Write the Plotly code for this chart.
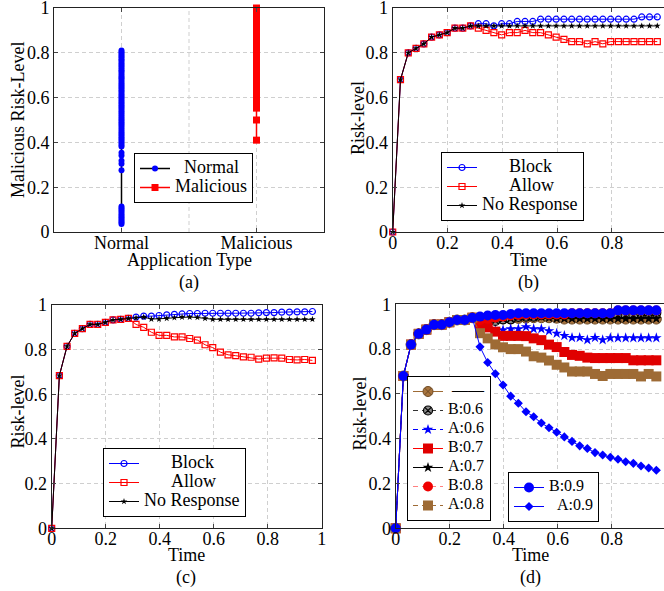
import plotly.graph_objects as go

W, H = 664, 591
SERIF = "Liberation Serif"

# ---------------- data: panel (a) ----------------
app_types = ["Normal", "Malicious"]
normal_risk = [0.81, 0.803, 0.795, 0.787, 0.78, 0.771, 0.765, 0.756, 0.748, 0.74,
               0.731, 0.722, 0.715, 0.706, 0.698, 0.69, 0.683, 0.674, 0.665, 0.657,
               0.649, 0.642, 0.633, 0.625, 0.616, 0.608, 0.6, 0.592, 0.583, 0.575,
               0.566, 0.558, 0.55, 0.541, 0.533, 0.524, 0.516, 0.507, 0.499, 0.49,
               0.482, 0.474, 0.465, 0.457, 0.448, 0.44, 0.432, 0.423, 0.415, 0.407,
               0.398, 0.39, 0.382, 0.354, 0.342, 0.318, 0.305, 0.276,
               0.114, 0.106, 0.098, 0.09, 0.082, 0.074, 0.066, 0.058, 0.05, 0.043, 0.036]
malicious_risk = [1.0, 0.995, 0.988, 0.98, 0.972, 0.964, 0.957, 0.949, 0.941, 0.933,
                  0.925, 0.917, 0.909, 0.9, 0.892, 0.884, 0.876, 0.868, 0.86, 0.852,
                  0.843, 0.835, 0.827, 0.819, 0.81, 0.802, 0.794, 0.786, 0.777, 0.769,
                  0.761, 0.752, 0.744, 0.736, 0.727, 0.719, 0.711, 0.702, 0.694, 0.686,
                  0.677, 0.669, 0.661, 0.652, 0.644, 0.636, 0.627, 0.619, 0.611, 0.602,
                  0.594, 0.586, 0.577, 0.569, 0.561, 0.553, 0.5, 0.41]

# ---------------- shared time axis ----------------
time = [0, 0.0284, 0.0568, 0.0852, 0.1136, 0.142, 0.1704, 0.1988, 0.2272, 0.2556,
        0.284, 0.3124, 0.3408, 0.3692, 0.3976, 0.426, 0.4544, 0.4828, 0.5112, 0.5396,
        0.568, 0.5964, 0.6248, 0.6532, 0.6816, 0.71, 0.7384, 0.7668, 0.7952, 0.8236,
        0.852, 0.8804, 0.9088, 0.9372, 0.9656]

# ---------------- panel (b) ----------------
b_start = [0, 0.68, 0.80, 0.82, 0.84, 0.87, 0.88, 0.89, 0.91, 0.91, 0.92]
b_block = b_start + [0.93, 0.93, 0.92, 0.93, 0.93, 0.94, 0.94, 0.94,
                     0.95, 0.95, 0.95, 0.95, 0.95, 0.95, 0.95, 0.95, 0.95, 0.95, 0.95, 0.95, 0.95,
                     0.96, 0.96, 0.96]
b_allow = b_start + [0.91, 0.90, 0.89, 0.88, 0.89, 0.89, 0.90, 0.89, 0.89, 0.88, 0.87, 0.86,
                     0.85, 0.85, 0.84, 0.85, 0.84, 0.85, 0.85, 0.85, 0.85, 0.85, 0.85, 0.85]
b_noresp = b_start + [0.92, 0.92, 0.92, 0.92, 0.92, 0.92, 0.92, 0.92, 0.92, 0.92, 0.92, 0.92,
                      0.92, 0.92, 0.92, 0.92, 0.92, 0.92, 0.92, 0.92, 0.92, 0.92, 0.92, 0.92]

# ---------------- panel (c) ----------------
c_start = [0, 0.684, 0.815, 0.873, 0.894, 0.913, 0.913, 0.922, 0.933, 0.936, 0.94]
c_block = c_start + [0.946, 0.95, 0.95, 0.953, 0.956, 0.958, 0.96, 0.962, 0.962, 0.963,
                     0.963, 0.963, 0.963, 0.963, 0.963, 0.963, 0.965, 0.966, 0.966, 0.968,
                     0.968, 0.969, 0.969, 0.971]
c_allow = c_start + [0.913, 0.90, 0.878, 0.864, 0.864, 0.857, 0.857, 0.85, 0.843, 0.822,
                     0.809, 0.789, 0.777, 0.773, 0.768, 0.766, 0.758, 0.762, 0.763, 0.762,
                     0.756, 0.754, 0.756, 0.752]
c_noresp = c_start + [0.942, 0.946, 0.937, 0.937, 0.94, 0.943, 0.946, 0.946, 0.944, 0.94,
                      0.936, 0.936, 0.936, 0.936, 0.936, 0.936, 0.936, 0.936, 0.936, 0.936,
                      0.936, 0.936, 0.936, 0.936]

# ---------------- panel (d) ----------------
d_start = [0, 0.68, 0.82, 0.868, 0.887, 0.909, 0.909, 0.92, 0.93, 0.93, 0.94]
d_base = d_start + [0.94, 0.938, 0.935, 0.935, 0.935, 0.937, 0.938, 0.94, 0.94, 0.94, 0.938,
                    0.934, 0.934, 0.934, 0.934, 0.934, 0.934, 0.934, 0.934, 0.934, 0.934,
                    0.934, 0.934, 0.934]
d_b06 = d_start + [0.933, 0.933, 0.926, 0.933, 0.933, 0.944, 0.945, 0.945,
                   0.952, 0.952, 0.952, 0.952, 0.952, 0.952, 0.952, 0.952, 0.952, 0.952,
                   0.952, 0.952, 0.952, 0.962, 0.962, 0.962]
d_a06 = d_start + [0.908, 0.893, 0.881, 0.885, 0.89, 0.89, 0.899, 0.89, 0.89, 0.881, 0.87,
                   0.86, 0.851, 0.851, 0.841, 0.851, 0.841, 0.85, 0.85, 0.85, 0.85, 0.85,
                   0.85, 0.85]
d_b07 = d_start + [0.908, 0.897, 0.878, 0.859, 0.859, 0.859, 0.858, 0.848, 0.84, 0.82,
                   0.809, 0.787, 0.774, 0.77, 0.762, 0.76, 0.76, 0.76, 0.76, 0.76,
                   0.75, 0.75, 0.75, 0.75]
d_a07 = d_start + [0.942, 0.946, 0.937, 0.937, 0.94, 0.943, 0.946, 0.946, 0.944, 0.94,
                   0.936, 0.936, 0.936, 0.936, 0.936, 0.936, 0.936, 0.936, 0.936, 0.936,
                   0.936, 0.936, 0.936, 0.936]
d_b08 = d_start + [0.93, 0.935, 0.94, 0.945, 0.95, 0.952, 0.955, 0.955, 0.955, 0.955,
                   0.955, 0.955, 0.96, 0.96, 0.96, 0.96, 0.96, 0.96, 0.972, 0.972,
                   0.972, 0.972, 0.972, 0.972]
d_a08 = d_start + [0.871, 0.848, 0.821, 0.808, 0.80, 0.80, 0.789, 0.768, 0.762, 0.749,
                   0.73, 0.718, 0.70, 0.70, 0.70, 0.689, 0.68, 0.689, 0.689, 0.689,
                   0.689, 0.678, 0.689, 0.678]
d_b09 = d_start + [0.945, 0.95, 0.952, 0.952, 0.957, 0.96, 0.96, 0.96, 0.96, 0.96,
                   0.96, 0.96, 0.96, 0.96, 0.96, 0.96, 0.96, 0.96, 0.973, 0.973,
                   0.973, 0.973, 0.973, 0.973]
d_a09 = d_start + [0.81, 0.74, 0.69, 0.64, 0.59, 0.558, 0.52, 0.498, 0.47, 0.449, 0.429,
                   0.408, 0.388, 0.368, 0.356, 0.338, 0.327, 0.317, 0.308, 0.297, 0.29,
                   0.278, 0.269, 0.259]


def X(p):
    return p / W


def Y(p):
    return 1 - p / H


def lab(s, size=18):
    return f'<span style="font-size:{size}px">{s}</span>'


NB = "\u00a0"
BROWN = "#9E6B35"

fig = go.Figure()


def add(x, y, name, xa, ya, leg, line, marker):
    fig.add_trace(go.Scatter(x=x, y=y, name=name, mode="lines+markers",
                             line=line, marker=marker, xaxis=xa, yaxis=ya,
                             legend=leg, cliponaxis=False))


# (a)
add([app_types[0]] * len(normal_risk), normal_risk, lab(NB * 2 + "Normal"), "x", "y", "legend",
    dict(color="black", width=1.5), dict(symbol="circle", size=6, color="blue"))
add([app_types[1]] * len(malicious_risk), malicious_risk, lab("Malicious"), "x", "y", "legend",
    dict(color="red", width=1.5), dict(symbol="square", size=7, color="red"))

# (b)
add(time, b_block, lab(NB * 6 + "Block"), "x2", "y2", "legend2",
    dict(color="blue", width=1), dict(symbol="circle-open", size=6, color="blue", line=dict(width=1.2)))
add(time, b_allow, lab(NB * 6 + "Allow"), "x2", "y2", "legend2",
    dict(color="red", width=1), dict(symbol="square-open", size=6, color="red", line=dict(width=1.2)))
add(time, b_noresp, lab("No Response"), "x2", "y2", "legend2",
    dict(color="black", width=1), dict(symbol="star", size=5, color="black"))

# (c)
add(time, c_block, lab(NB * 6 + "Block"), "x3", "y3", "legend3",
    dict(color="blue", width=1), dict(symbol="circle-open", size=6, color="blue", line=dict(width=1.2)))
add(time, c_allow, lab(NB * 6 + "Allow"), "x3", "y3", "legend3",
    dict(color="red", width=1), dict(symbol="square-open", size=6, color="red", line=dict(width=1.2)))
add(time, c_noresp, lab("No Response"), "x3", "y3", "legend3",
    dict(color="black", width=1), dict(symbol="star", size=5, color="black"))

# (d)
DASH = "5px,4px"
add(time, d_base, lab(NB + "——", 16), "x4", "y4", "legend4",
    dict(color=BROWN, width=1), dict(symbol="circle-x", size=10, color="#A8743E", line=dict(color="#6E4A24", width=1)))
add(time, d_b06, lab("B:0.6", 16), "x4", "y4", "legend4",
    dict(color="#333333", width=1, dash=DASH), dict(symbol="circle-x", size=9, color="#8A8A8A", line=dict(color="black", width=1.2)))
add(time, d_a06, lab("A:0.6", 16), "x4", "y4", "legend4",
    dict(color="blue", width=1, dash=DASH), dict(symbol="star", size=8, color="blue"))
add(time, d_b07, lab("B:0.7", 16), "x4", "y4", "legend4",
    dict(color="red", width=1), dict(symbol="square", size=10, color="#E00000"))
add(time, d_a07, lab("A:0.7", 16), "x4", "y4", "legend4",
    dict(color="black", width=1), dict(symbol="star", size=8, color="black"))
add(time, d_b08, lab("B:0.8", 16), "x4", "y4", "legend4",
    dict(color="#FF8080", width=1.2, dash=DASH), dict(symbol="circle", size=10, color="#F00000"))
add(time, d_a08, lab("A:0.8", 16), "x4", "y4", "legend4",
    dict(color=BROWN, width=1, dash=DASH), dict(symbol="square", size=10, color=BROWN))
add(time, d_b09, lab("B:0.9", 16), "x4", "y4", "legend5",
    dict(color="blue", width=1), dict(symbol="circle", size=10, color="blue"))
add(time, d_a09, lab(NB * 2 + "A:0.9", 16), "x4", "y4", "legend5",
    dict(color="blue", width=1), dict(symbol="diamond", size=7, color="blue"))

axis_common = dict(showline=True, linecolor="#222222", linewidth=1, ticks="inside", ticklen=4,
                   tickcolor="#444444", showgrid=True, gridcolor="#CFCFCF", griddash="4px,3px",
                   gridwidth=1, zeroline=False, automargin=False, ticklabeloverflow="allow",
                   tickfont=dict(family=SERIF, size=18, color="black"))
yticks = dict(range=[0, 1], tick0=0, dtick=0.2)
xticks = dict(tick0=0, dtick=0.2, ticklabelstandoff=-6)

legend_common = dict(bordercolor="black", borderwidth=1, bgcolor="white")

fig.update_layout(
    template="none",
    width=W, height=H, margin=dict(l=0, r=0, t=0, b=0, pad=0, autoexpand=False),
    paper_bgcolor="white", plot_bgcolor="white", showlegend=True,
    font=dict(family=SERIF, color="black"),
    xaxis=dict(axis_common, type="category", categoryorder="array", categoryarray=app_types,
               range=[-0.5, 1.5], domain=[X(54), X(324)], anchor="y", mirror="ticks",
               ticklabelstandoff=-6),
    yaxis=dict(axis_common, **yticks, domain=[Y(232), Y(8)], anchor="x", mirror="ticks"),
    xaxis2=dict(axis_common, **xticks, range=[0, 0.99], domain=[X(392.7), 1], anchor="y2", mirror="ticks"),
    yaxis2=dict(axis_common, **yticks, domain=[Y(232), Y(8)], anchor="x2", mirror=False),
    xaxis3=dict(axis_common, **xticks, range=[0, 1], domain=[X(51.7), X(321.7)], anchor="y3", mirror="ticks"),
    yaxis3=dict(axis_common, **yticks, domain=[Y(528.3), Y(305)], anchor="x3", mirror="ticks"),
    xaxis4=dict(axis_common, **xticks, range=[0, 0.994], domain=[X(395.7), 1], anchor="y4", mirror="ticks"),
    yaxis4=dict(axis_common, **yticks, domain=[Y(528.3), Y(304.3)], anchor="x4", mirror=False),
    legend=dict(legend_common, x=X(134), y=Y(153), xanchor="left", yanchor="top",
                font=dict(family=SERIF, size=11, color="black")),
    legend2=dict(legend_common, x=X(441), y=Y(152), xanchor="left", yanchor="top",
                 font=dict(family=SERIF, size=12, color="black")),
    legend3=dict(legend_common, x=X(103), y=Y(448), xanchor="left", yanchor="top",
                 font=dict(family=SERIF, size=12, color="black")),
    legend4=dict(legend_common, x=X(407), y=Y(521), xanchor="left", yanchor="bottom",
                 font=dict(family=SERIF, size=10, color="black")),
    legend5=dict(legend_common, x=X(508), y=Y(522), xanchor="left", yanchor="bottom",
                 font=dict(family=SERIF, size=9, color="black")),
    shapes=[dict(type="line", xref="x", yref="y domain", x0=0.5, x1=0.5, y0=0, y1=1,
                 line=dict(color="#CFCFCF", width=1, dash="4px,3px"), layer="below")],
)

ann_font = dict(family=SERIF, size=18, color="black")
texts = [
    ("Malicious Risk-Level", 18, 120, -90),
    ("Application Type", 189, 260, 0),
    ("(a)", 189, 282, 0),
    ("Risk-level", 358, 118, -90),
    ("Time", 528, 260, 0),
    ("(b)", 528, 282, 0),
    ("Risk-level", 17.5, 412, -90),
    ("Time", 186, 555, 0),
    ("(c)", 186, 577, 0),
    ("Risk-level", 359.5, 414, -90),
    ("Time", 530, 555, 0),
    ("(d)", 530, 577, 0),
]
for t, px, py, ang in texts:
    fig.add_annotation(text=t, x=X(px), y=Y(py), xref="paper", yref="paper",
                       xanchor="center", yanchor="middle", showarrow=False,
                       textangle=ang, font=ann_font)

fig.write_html("out.html", config={"displayModeBar": False},
               post_script="document.body.style.margin='0';")
